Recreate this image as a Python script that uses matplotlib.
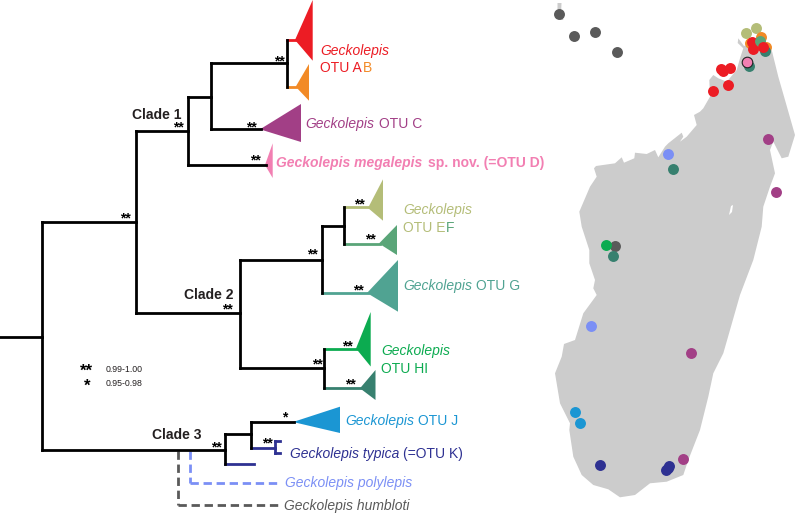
import matplotlib
matplotlib.use("Agg")
import matplotlib.pyplot as plt
from matplotlib.patches import Polygon

plt.rcParams['font.family'] = ['Liberation Sans', 'DejaVu Sans']

RED = '#ec1c24'
ORANGE = '#f28a26'
PURPLE = '#a23f86'
PINK = '#f27fb2'
OLIVE = '#b4bd78'
GREEN_E = '#5aa578'
GREEN_G = '#50a392'
GREEN_H = '#0cab50'
TEAL = '#37806f'
CYAN = '#1b96d3'
NAVY = '#2e3192'
BLUE = '#7b8ff5'
GREY = '#5a5a5a'
BLACK = '#000000'
LAND = '#cccccc'

# tree branches in picture pixels: x0, y0, x1, y1, colour
branches = [
    (0, 337, 42, 337, BLACK), (42, 222, 42, 449.5, BLACK), (42, 222, 136, 222, BLACK),
    (136, 131, 136, 313, BLACK), (136, 131, 188, 131, BLACK), (188, 97, 188, 164.7, BLACK),
    (188, 97, 211, 97, BLACK), (211, 63, 211, 129, BLACK), (211, 63, 287, 63, BLACK),
    (287, 40, 287, 87, BLACK), (287, 40, 296, 40, RED), (287, 87, 296, 87, ORANGE),
    (211, 129, 261, 129, BLACK), (188, 164.7, 266, 164.7, BLACK),
    (136, 313, 239.5, 313, BLACK), (239.5, 259.7, 239.5, 368, BLACK),
    (239.5, 259.7, 322, 259.7, BLACK), (322, 225.5, 322, 293.3, BLACK),
    (322, 225.5, 344, 225.5, BLACK), (344, 207.3, 344, 243.5, BLACK),
    (344, 207.3, 368, 207.3, OLIVE), (344, 243.5, 380, 243.5, GREEN_E),
    (322, 293.3, 368, 293.3, GREEN_G), (239.5, 368, 324, 368, BLACK),
    (324, 348.5, 324, 388.3, BLACK), (324, 348.5, 357, 348.5, GREEN_H),
    (324, 388.3, 361, 388.3, TEAL),
    (42, 449.5, 224.5, 449.5, BLACK), (224.5, 433.7, 224.5, 464, BLACK),
    (224.5, 433.7, 250.5, 433.7, BLACK), (250.5, 422, 250.5, 447.5, BLACK),
    (250.5, 422, 294, 422, BLACK), (250.5, 447.5, 274.5, 447.5, NAVY),
    (274.5, 441.3, 274.5, 453, NAVY), (274.5, 441.3, 280, 441.3, NAVY),
    (274.5, 453, 280, 453, NAVY), (224.5, 464, 254, 464, NAVY),
]
dashed = [
    (177.5, 451, 177.5, 504.5, GREY), (177.5, 504.5, 279, 504.5, GREY),
    (189.5, 451, 189.5, 482.7, BLUE), (189.5, 482.7, 279, 482.7, BLUE),
]

# collapsed clades: apex, far top, far bottom, colour
clades = [
    ((295, 40), (312.7, 0), (312.7, 60.7), RED),
    ((295.7, 86.7), (309, 64), (309, 100.7), ORANGE),
    ((260, 129.3), (301, 104), (301, 142), PURPLE),
    ((265, 165), (272.7, 143.3), (272.7, 178), PINK),
    ((368, 208), (383, 179.3), (383, 220.7), OLIVE),
    ((379, 243.5), (397, 225), (397, 255), GREEN_E),
    ((367, 293), (398, 260), (398, 311.7), GREEN_G),
    ((356, 348.5), (370.7, 312), (370.7, 366.5), GREEN_H),
    ((360, 388.3), (375.5, 370), (375.5, 400), TEAL),
    ((293, 422), (340, 406.7), (340, 433), CYAN),
]

double_stars = [(279, 60), (178, 126), (251, 126), (255, 159), (125, 217), (359, 203),
                (370.3, 238.3), (312, 253), (358, 289.7), (227, 308), (347, 345),
                (317, 363.5), (350, 383), (216, 446), (267, 442)]
single_stars = [(284.7, 416)]

# label text: x, baseline y, string, colour, italic, bold
labels = [
    (320, 54.5, 'Geckolepis', RED, True, False), (320, 72, 'OTU A', RED, False, False),
    (363, 72, 'B', ORANGE, False, False),
    (305, 127.7, 'Geckolepis', PURPLE, True, False), (378.7, 127.7, 'OTU C', PURPLE, False, False),
    (276, 166.7, 'Geckolepis megalepis', PINK, True, True),
    (428.3, 166.7, 'sp. nov. (=OTU D)', PINK, False, True),
    (403, 214, 'Geckolepis', OLIVE, True, False), (403, 232.3, 'OTU E', OLIVE, False, False),
    (445.6, 232.3, 'F', GREEN_E, False, False),
    (403, 290.3, 'Geckolepis', GREEN_G, True, False), (476, 290.3, 'OTU G', GREEN_G, False, False),
    (381, 355, 'Geckolepis', GREEN_H, True, False), (381, 373.3, 'OTU HI', GREEN_H, False, False),
    (345.7, 425, 'Geckolepis', CYAN, True, False), (418.5, 425, 'OTU J', CYAN, False, False),
    (289.7, 458.3, 'Geckolepis typica', NAVY, True, False), (403, 458.3, '(=OTU K)', NAVY, False, False),
    (285, 486.7, 'Geckolepis polylepis', BLUE, True, False),
    (284.5, 510, 'Geckolepis humbloti', GREY, True, False),
]
clade_names = [(132, 119.3, 'Clade 1'), (184, 299, 'Clade 2'), (152.5, 439, 'Clade 3')]
support_values = [(105.5, 371.7, '0.99-1.00'), (105.5, 385.7, '0.95-0.98')]

map_outline = [
    (738.3, 38.3), (744, 46), (750, 44), (757, 40), (764, 42), (771.7, 50), (778.3, 76.7),
    (785, 100), (795, 135), (788.3, 156.7), (781.7, 158.3), (773.3, 141.7), (770, 150),
    (775, 173.3), (770, 186.7), (763.3, 206.7), (761.7, 226.7), (753.3, 260),
    (740, 295), (730, 330), (723.3, 353.3), (713.3, 373.3), (708.3, 396.7), (700, 430),
    (688.3, 460), (683.3, 475), (666.7, 481.7), (650, 483.3), (635, 495), (620, 497.3),
    (608.3, 489.3), (593.3, 485), (581.7, 475), (573.3, 456.7), (569.3, 430), (570, 423.3),
    (560, 403.3), (555, 373.3), (561.7, 356.7), (564, 344), (575, 340), (583.3, 313.3),
    (596.7, 295), (593.3, 288.3), (595, 280), (589.3, 263.3), (589.3, 250),
    (581.7, 226.7), (579.3, 211.7), (590, 186.7), (596.7, 176.7), (594, 168.3),
    (596, 166), (615, 163.3), (621.7, 157.3), (624, 162.7), (634.3, 158.3), (635, 152.7),
    (646.7, 154), (655, 150), (658.3, 157.3), (665, 146.7), (668.3, 143.3), (681.7, 132.7),
    (683.3, 136.7), (680, 141.7), (686.7, 136.7), (696.7, 125), (694, 115), (700, 111.7),
    (703.3, 108.3), (710, 96.7), (709.3, 80), (713.3, 75), (718.3, 78.3), (726.7, 81.7),
    (736.7, 70), (740, 58.3), (743.3, 48.3), (737.7, 43),
]
island_outline = [(557.5, 3), (561.5, 3), (561, 16), (563.5, 20), (560, 20), (557.5, 14)]
lake_outline = [(729, 215), (731, 206), (733, 205), (732, 212)]

# map records in drawing order: colour, then x and y of each site
map_points = [
    (GREY, [559, 573.7, 595, 617.3, 615.3], [13.7, 36, 32, 51.7, 246]),
    (OLIVE, [746, 755.7], [33.3, 28.3]),
    (ORANGE, [760.7, 749.5, 765.5], [37.3, 42.7, 46.7]),
    (TEAL, [765, 749.3, 673.3, 612.7], [50.5, 66, 169, 255.7]),
    (GREEN_H, [605.7], [245.3]),
    (RED, [751.7, 753.3, 721, 723.3, 729.7, 728, 713],
     [41.7, 49.3, 69, 71, 68.3, 85, 90.7]),
    (GREEN_E, [759.5], [41]),
    (RED, [763.3], [47]),
    (PURPLE, [768, 776, 690.7, 683.3], [138.7, 191.7, 353.3, 459]),
    (BLUE, [668.3, 591.3], [154.3, 325.7]),
    (CYAN, [574.7, 580.3], [412.3, 422.7]),
    (NAVY, [599.7, 669.3, 668, 666.3], [465.3, 465.7, 467.7, 470]),
]
holotype_point = (746.7, 62.3)

fig = plt.figure(figsize=(7.96, 5.13), dpi=100)
ax = fig.add_axes([0, 0, 1, 1])
ax.set_xlim(0, 796)
ax.set_ylim(513, 0)
ax.axis('off')

ax.add_patch(Polygon(map_outline, closed=True, fc=LAND, ec='none', zorder=1))
ax.add_patch(Polygon(island_outline, closed=True, fc=LAND, ec='none', zorder=1))
ax.add_patch(Polygon(lake_outline, closed=True, fc='white', ec='none', zorder=1.5))
for z, (colour, xs, ys) in enumerate(map_points):
    ax.scatter(xs, ys, s=62, c=colour, linewidths=0, zorder=2 + z * 0.01)
ax.scatter(*holotype_point, s=58, c=PINK, edgecolors='#222222', linewidths=0.8, zorder=3)

for apex, top, bottom, colour in clades:
    ax.add_patch(Polygon([apex, top, bottom], closed=True, fc=colour, ec='none', zorder=4))

for x0, y0, x1, y1, colour in dashed:
    ax.plot([x0, x1], [y0, y1], color=colour, lw=2, dashes=(3, 1.7), zorder=4)
# coloured branches go under the black ones, so the order is sorted
for x0, y0, x1, y1, colour in sorted(branches, key=lambda b: b[4] == BLACK):
    ax.plot([x0, x1], [y0, y1], color=colour, lw=2, solid_capstyle='projecting', zorder=5)

for x, y, s, colour, italic, bold in labels:
    ax.text(x, y, s, color=colour, fontsize=10, va='baseline',
            style='italic' if italic else 'normal',
            weight='bold' if bold else 'normal')
for x, y, s in clade_names:
    ax.text(x, y, s, color='#231f20', fontsize=10, weight='bold', va='baseline')

for x, y in double_stars:
    ax.text(x, y + 5, '**', fontsize=10, weight='bold', ha='center', va='baseline', zorder=6)
for x, y in single_stars:
    ax.text(x, y + 5, '*', fontsize=10, weight='bold', ha='center', va='baseline', zorder=6)

ax.text(86, 376, '**', fontsize=12, weight='bold', ha='center', va='baseline')
ax.text(86.7, 391, '*', fontsize=12, weight='bold', ha='center', va='baseline')
for x, y, s in support_values:
    ax.text(x, y, s, fontsize=6.3, va='baseline', color='#231f20')

fig.savefig('out.png', dpi=100)
